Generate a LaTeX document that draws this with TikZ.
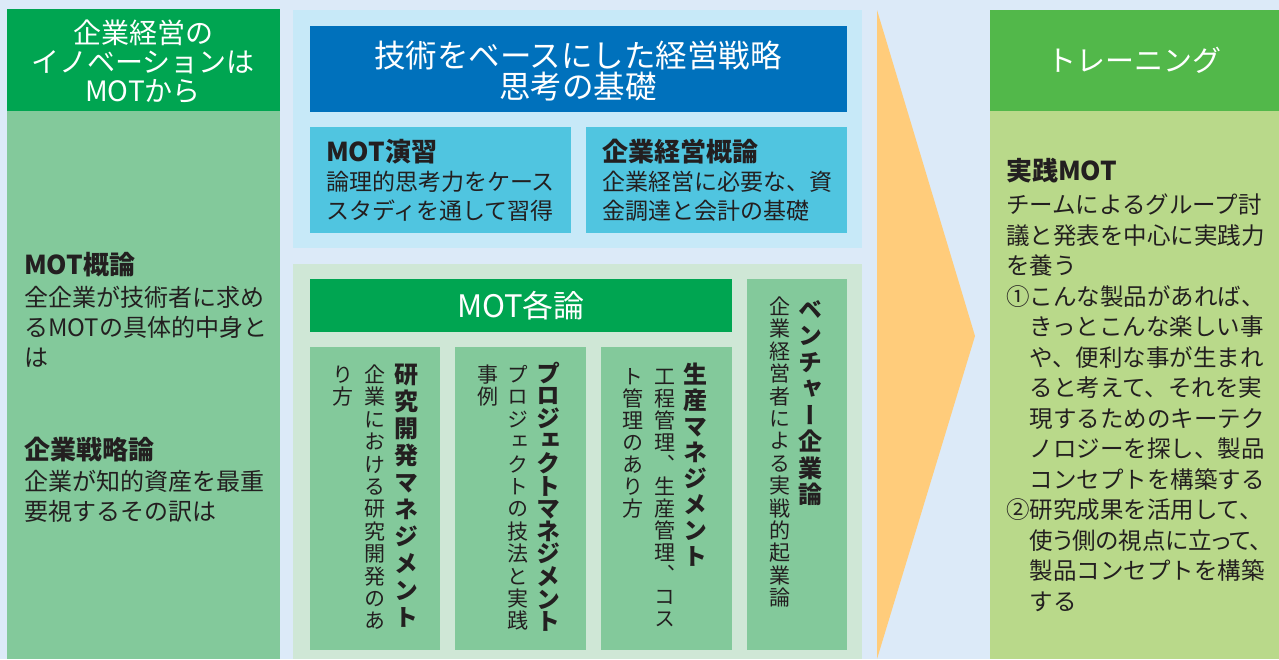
\documentclass[tikz,border=0pt]{standalone}
\usepackage{fontspec}
\setmainfont{Noto Sans CJK JP}
\newfontfamily\jpv[RawFeature=+vert]{Noto Sans CJK JP}
\newfontfamily\jpp[RawFeature=+palt]{Noto Sans CJK JP}
\definecolor{bg}{HTML}{DCEAF8}
\definecolor{dgreen}{HTML}{00A551}
\definecolor{mgreen}{HTML}{83C99B}
\definecolor{lblue}{HTML}{C7E9F8}
\definecolor{tblue}{HTML}{0071BC}
\definecolor{cyanbox}{HTML}{50C5E0}
\definecolor{lgreen}{HTML}{CFE7D6}
\definecolor{orangearrow}{HTML}{FFCC7B}
\definecolor{rgreen}{HTML}{52B84A}
\definecolor{rbody}{HTML}{B9D98A}
\definecolor{ink}{HTML}{231F20}
\newcommand\fs[2]{\fontsize{#1}{#2}\selectfont}
\newcommand\hs{\rule{0pt}{0.88em}}
\makeatletter
\newcommand\vstack[2]{\vbox{\baselineskip=#1\lineskiplimit=-200pt\lineskip=0pt
  \@tfor\vs@c:=#2\do{\hbox to 1em{\hss\vs@c\hss\rule{0pt}{0.88em}}}}}
\makeatother
\tikzset{
  txt/.style={text=ink, align=left, anchor=north west},
  wtxt/.style={text=white, align=center, anchor=north},
  vtx/.style={text=ink, anchor=north},
}
\begin{document}
\begin{tikzpicture}[x=1pt,y=-1pt, every node/.style={inner sep=0pt, outer sep=0pt}]
\useasboundingbox (0,0) rectangle (1279,659);
\fill[bg] (0,0) rectangle (1279,659);
% left column
\fill[dgreen] (7,9) rectangle (280,111);
\fill[mgreen] (7,111) rectangle (280,659);
\node[wtxt, font=\fs{28}{29}] (lhead) at (143,19) {\hs 企業経営の\\イノベーションは\\MOTから};
\node[txt, font=\bfseries\fs{26}{30}] (motg) at (24,252) {\hs MOT概論};
\node[txt, font=\fs{24}{30}] (motgb) at (24,285) {\hs 全企業が技術者に求め\\るMOTの具体的中身と\\は};
\node[txt, font=\bfseries\fs{26}{30}] (sen) at (24,437) {\hs 企業戦略論};
\node[txt, font=\fs{24}{30}] (senb) at (24,469) {\hs 企業が知的資産を最重\\要視するその訳は};
% middle top panel
\fill[lblue] (293,10) rectangle (862,248);
\fill[tblue] (310,26) rectangle (847,112);
\node[wtxt, font=\fs{31.5}{31}] (ttl) at (578,39.5) {\hs 技術をベースにした経営戦略\\思考の基礎};
\fill[cyanbox] (310,127) rectangle (571,233);
\fill[cyanbox] (586,127) rectangle (847,233);
\node[txt, font=\bfseries\fs{26}{30}] (ens) at (326,139) {\hs MOT演習};
\node[txt, font=\fs{23}{29.5}] (ensb) at (326,170) {\hs 論理的思考力をケース\\スタディを通して習得};
\node[txt, font=\bfseries\fs{26}{30}] (kgg) at (602,139) {\hs 企業経営概論};
\node[txt, font=\fs{23}{29.5}] (kggb) at (602,170) {\hs 企業経営に必要な、資\\金調達と会計の基礎};
% middle lower panel
\fill[lgreen] (293,264) rectangle (862,659);
\fill[dgreen] (310,279) rectangle (732,332);
\node[wtxt, font=\fs{31}{30}] (kak) at (521,290) {\hs MOT各論};
\fill[mgreen] (310,347) rectangle (440,650);
\fill[mgreen] (455,347) rectangle (586,650);
\fill[mgreen] (601,347) rectangle (732,650);
\fill[mgreen] (747,279) rectangle (847,650);
\node[vtx] (v1t) at (406,362) {\jpv\bfseries\fs{24}{24}\vstack{27pt}{研究開発マネジメント}};
\node[vtx] (v1a) at (375,364) {\jpv\fs{21}{21}\vstack{22.4pt}{企業における研究開発のあ}};
\node[vtx] (v1b) at (343,364) {\jpv\fs{21}{21}\vstack{22.4pt}{り方}};
\node[vtx] (v2t) at (548,361) {\jpv\bfseries\fs{24}{24}\vstack{22.6pt}{プロジェクトマネジメント}};
\node[vtx] (v2a) at (518,364) {\jpv\fs{21}{21}\vstack{22.4pt}{プロジェクトの技法と実践}};
\node[vtx] (v2b) at (488,364) {\jpv\fs{21}{21}\vstack{22.4pt}{事例}};
\node[vtx] (v3t) at (695,362) {\jpv\bfseries\fs{24}{24}\vstack{26pt}{生産マネジメント}};
\node[vtx] (v3a) at (665,366) {\jpv\fs{21}{21}\vstack{22pt}{工程管理、生産管理、コス}};
\node[vtx] (v3b) at (633,366) {\jpv\fs{21}{21}\vstack{22pt}{ト管理のあり方}};
\node[vtx] (v4t) at (810,297) {\jpv\bfseries\fs{24}{24}\vstack{26.5pt}{ベンチャー企業論}};
\node[vtx] (v4a) at (780,296) {\jpv\fs{21}{21}\vstack{22.4pt}{企業経営者による実戦的起業論}};
% arrow
\fill[orangearrow] (877,10) -- (975,336) -- (877,659) -- cycle;
% right column
\fill[rgreen] (990,10) rectangle (1279,111);
\fill[rbody] (990,111) rectangle (1279,659);
\node[wtxt, font=\fs{29}{29}] (rhead) at (1134,45.5) {\hs トレーニング};
\node[txt, font=\bfseries\fs{26}{30}] (jmot) at (1006,158) {\hs 実践MOT};
\node[txt, font=\fs{23.5}{30.5}] (jmotb) at (1006,193) {\hs チームによるグループ討\\議と発表を中心に実践力\\を養う\\①こんな製品があれば、\\\hspace*{1em}きっとこんな楽しい事\\\hspace*{1em}や、便利な事が生まれ\\\hspace*{1em}ると考えて、それを実\\\hspace*{1em}現するためのキーテク\\\hspace*{1em}ノロジーを探し、製品\\\hspace*{1em}コンセプトを構築する\\②研究成果を活用して、\\\hspace*{1em}{\jpp 使う側の視点に立って、}\\\hspace*{1em}製品コンセプトを構築\\\hspace*{1em}する};
\end{tikzpicture}
\end{document}
